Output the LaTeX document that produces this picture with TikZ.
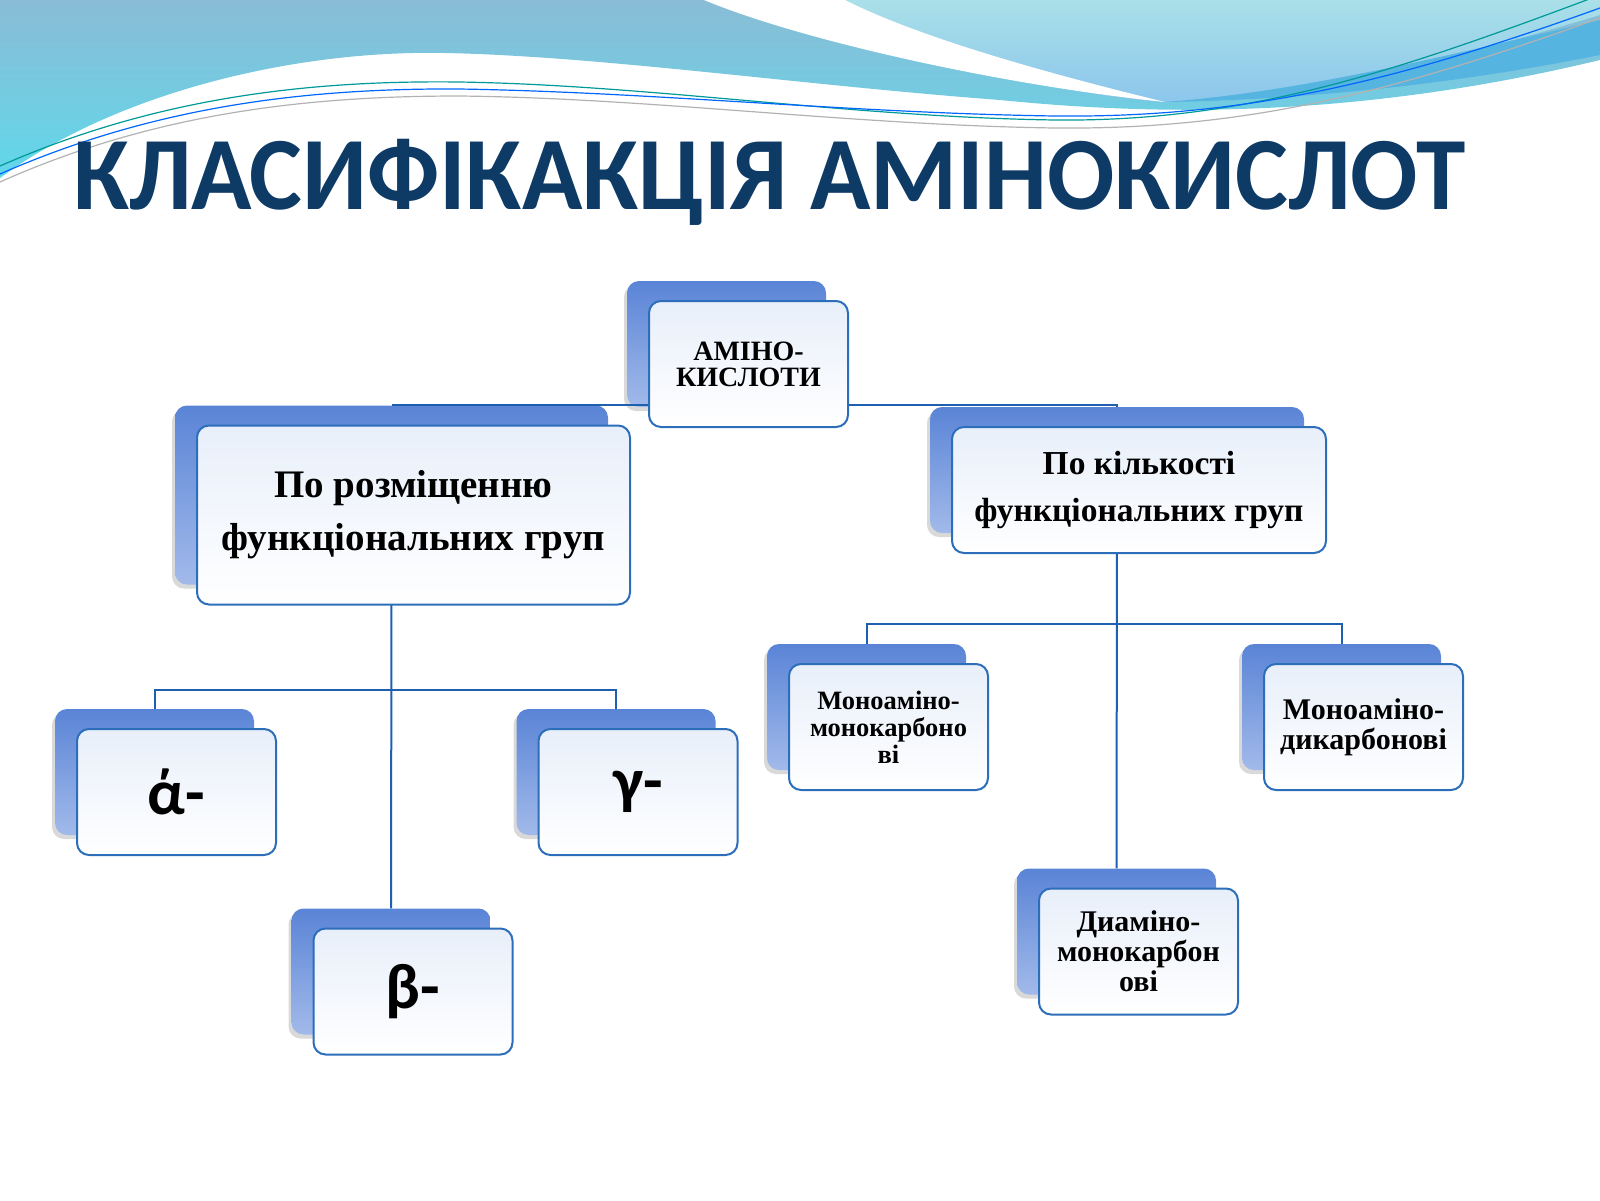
\documentclass[tikz,border=0pt]{standalone}
\usepackage{fontspec}
\setmainfont{Liberation Serif}
\newfontfamily\headfont{Carlito}
\newfontfamily\titlefont{Carlito}[FakeStretch=0.958]
\usetikzlibrary{positioning,shadows}

\definecolor{titleblue}{RGB}{14,58,102}
\definecolor{linkblue}{RGB}{31,95,176}
\definecolor{boxline}{RGB}{44,110,186}
\definecolor{backtop}{RGB}{90,132,214}
\definecolor{backbot}{RGB}{162,186,234}
\definecolor{fronttop}{RGB}{232,239,250}
\definecolor{wavetop}{RGB}{138,188,214}
\definecolor{wavebot}{RGB}{96,216,234}
\definecolor{aquatop}{RGB}{170,224,232}
\definecolor{aquabot}{RGB}{140,198,236}
\definecolor{stripe}{RGB}{86,180,224}

\begin{document}
\begin{tikzpicture}[x=1pt,y=-1pt,
    backbox/.style={rounded corners=12pt,top color=backtop,bottom color=backbot,inner sep=0pt,
      drop shadow={shadow xshift=-3pt,shadow yshift=-4pt,opacity=.3}},
    frontbox/.style={rounded corners=12pt,draw=boxline,line width=2pt,top color=fronttop,
      bottom color=white,align=center,inner sep=0pt},
    smallsize/.style={minimum width=199pt,minimum height=126pt},
    midsize/.style={minimum width=374pt,minimum height=126pt},
    bigsize/.style={minimum width=433pt,minimum height=179pt},
    link/.style={draw=linkblue,line width=2pt}]
    \useasboundingbox (0,0) rectangle (1600,1200);
    \clip (0,0) rectangle (1600,1200);

    % waves at the top
    \shade[top color=wavetop,bottom color=wavebot] (0,0) -- (0,178)
        .. controls (120,90) and (300,50) .. (444,53)
        .. controls (600,56) and (800,85) .. (1000,100)
        .. controls (1150,115) and (1350,120) .. (1600,60) -- (1600,0) -- cycle;
    \shade[top color=aquatop,bottom color=aquabot] (780,0)
        .. controls (900,50) and (1050,95) .. (1165,102)
        .. controls (1300,95) and (1450,60) .. (1600,15) -- (1600,0) -- cycle;
    \fill[stripe] (1165,102) .. controls (1300,92) and (1450,55) .. (1600,20)
        -- (1600,55) .. controls (1450,85) and (1300,100) .. (1165,102) -- cycle;
    \fill[white] (704,0) .. controls (800,40) and (1000,85) .. (1165,102)
        .. controls (1000,62) and (900,28) .. (845,0) -- cycle;
    \draw[teal!80!cyan,line width=1.2pt] (0,166) .. controls (150,100) and (300,80) .. (459,82)
        .. controls (650,85) and (850,117) .. (1055,120) .. controls (1250,122) and (1400,70) .. (1600,-5);
    \draw[blue!60!cyan,line width=1.2pt] (0,174) .. controls (150,108) and (300,88) .. (459,89)
        .. controls (650,92) and (850,113) .. (1055,116) .. controls (1250,118) and (1400,80) .. (1600,8);
    \draw[gray!60,line width=1.2pt] (0,182) .. controls (150,115) and (300,96) .. (459,96)
        .. controls (650,98) and (850,125) .. (1055,128) .. controls (1250,130) and (1400,90) .. (1600,18);

    \node[anchor=base west,inner sep=0pt,text=titleblue,
        font=\titlefont\bfseries\fontsize{104}{110}\selectfont] (title) at (73,209) {КЛАСИФІКАКЦІЯ АМІНОКИСЛОТ};

    % back boxes
    \node[backbox,smallsize] (rootb) at (726.5,344) {};
    \node[backbox,bigsize] (lposb) at (391.5,495) {};
    \node[backbox,midsize] (rposb) at (1117,470) {};
    \node[backbox,smallsize] (alphab) at (154.5,772) {};
    \node[backbox,smallsize] (gammab) at (616,772) {};
    \node[backbox,smallsize] (betab) at (391,971.5) {};
    \node[backbox,smallsize] (mmb) at (866.5,707) {};
    \node[backbox,smallsize] (mdb) at (1341.5,707) {};
    \node[backbox,smallsize] (dmb) at (1116.5,931.5) {};

    % connectors
    \coordinate (lbar) at (391.5,690);
    \coordinate (rbar) at (1117,624);
    \draw[link] (rootb.south) -- (rootb.south |- lposb.north);
    \draw[link] (lposb.north) -- (rposb.north |- lposb.north) -- (rposb.north);
    \draw[link] (lposb.south) -- (betab.north);
    \draw[link] (alphab.north) -- (alphab.north |- lbar) -- (gammab.north |- lbar) -- (gammab.north);
    \draw[link] (rposb.south) -- (dmb.north);
    \draw[link] (mmb.north) -- (mmb.north |- rbar) -- (mdb.north |- rbar) -- (mdb.north);

    % front boxes
    \node[frontbox,smallsize,font=\bfseries\fontsize{28}{26}\selectfont] (root)
        at ([shift={(22,20)}]rootb.center) {АМІНО-\\КИСЛОТИ};
    \node[frontbox,bigsize,font=\bfseries\fontsize{39}{53}\selectfont] (lpos)
        at ([shift={(22,20)}]lposb.center) {По розміщенню\\функціональних груп};
    \node[frontbox,midsize,font=\bfseries\fontsize{33.5}{47}\selectfont] (rpos)
        at ([shift={(22,20)}]rposb.center) {По кількості\\функціональних груп};
    \node[frontbox,smallsize,font=\headfont\bfseries\fontsize{64}{66}\selectfont] (alpha)
        at ([shift={(22,20)}]alphab.center) {ά-};
    \node[frontbox,smallsize,font=\headfont\bfseries\fontsize{64}{66}\selectfont] (gamma)
        at ([shift={(22,20)}]gammab.center) {γ-};
    \node[frontbox,smallsize,font=\headfont\bfseries\fontsize{64}{66}\selectfont] (beta)
        at ([shift={(22,20)}]betab.center) {β-};
    \node[frontbox,smallsize,font=\bfseries\fontsize{26.5}{27}\selectfont] (mm)
        at ([shift={(22,20)}]mmb.center) {Моноаміно-\\монокарбоно\\ві};
    \node[frontbox,smallsize,font=\bfseries\fontsize{30}{30}\selectfont] (md)
        at ([shift={(22,20)}]mdb.center) {Моноаміно-\\дикарбонові};
    \node[frontbox,smallsize,font=\bfseries\fontsize{30}{30}\selectfont] (dm)
        at ([shift={(22,20)}]dmb.center) {Диаміно-\\монокарбон\\ові};
\end{tikzpicture}
\end{document}
